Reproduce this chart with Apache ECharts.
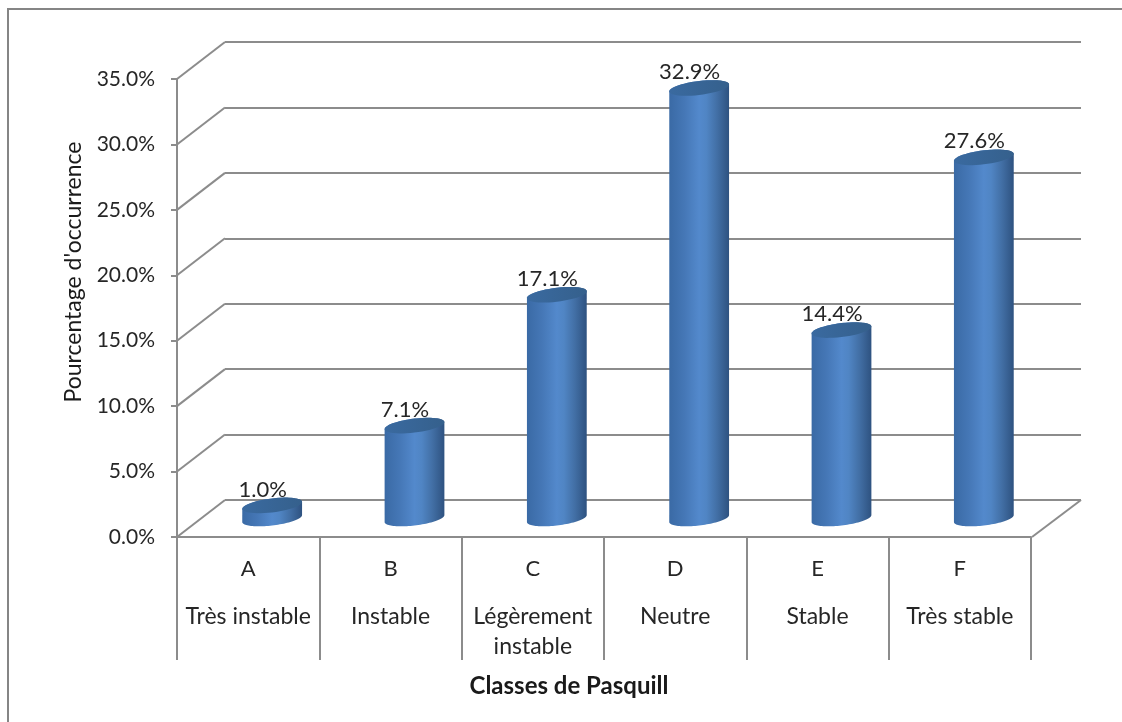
<!DOCTYPE html>
<html><head><meta charset="utf-8">
<style>html,body{margin:0;padding:0;background:#fff}#c{width:1122px;height:722px}</style>
<script src="https://cdn.jsdelivr.net/npm/echarts@6/dist/echarts.min.js"></script>
</head><body><div id="c"></div>
<script>
const letters = ['A','B','C','D','E','F'];
const classNames = ['Très instable','Instable','Légèrement\ninstable','Neutre','Stable','Très stable'];
const occurrence = [1.0,7.1,17.1,32.9,14.4,27.6];
const yTicks = [0,5,10,15,20,25,30,35];
const xName = 'Classes de Pasquill';
const yName = "Pourcentage d'occurrence";

const FONT='Lato', TXT='#262626', LINE='#8c8c8c';
const DX=48, DY=37;
const chart = echarts.init(document.getElementById('c'),null,{renderer:'canvas'});

function ell(cx,cy,from,to,rx,ry,skew){
  const pts=[],n=48;
  for(let i=0;i<=n;i++){const t=from+(to-from)*i/n;
    pts.push([cx+rx*Math.cos(t),cy+ry*Math.sin(t)-skew*Math.cos(t)]);}
  return pts;
}
const bodyGrad=new echarts.graphic.LinearGradient(0,0,1,0,[
 {offset:0,color:'#3a6aa5'},{offset:.25,color:'#4577b6'},{offset:.5,color:'#5389cc'},
 {offset:.62,color:'#5085c4'},{offset:.8,color:'#426fa5'},{offset:1,color:'#2e5280'}]);
const topGrad=new echarts.graphic.LinearGradient(0,0,1,0,[
 {offset:0,color:'#3a6aa0'},{offset:1,color:'#35608c'}]);

function renderCyl(params,api){
  const i=api.value(0),v=api.value(1);
  const t=api.coord([i,v]),b=api.coord([i,0]);
  const rx=api.size([1,0])[0]*0.21,ry=7,skew=3.5;
  const poly=ell(b[0],b[1],0,Math.PI,rx,ry,skew).concat(ell(t[0],t[1],Math.PI,2*Math.PI,rx,ry,skew));
  return {type:'group',children:[
    {type:'polygon',shape:{points:poly},style:{fill:bodyGrad}},
    {type:'polygon',shape:{points:ell(t[0],t[1],0,2*Math.PI,rx,ry,skew)},style:{fill:topGrad}},
    {type:'text',style:{text:v.toFixed(1)+'%',x:t[0]-9.5,y:t[1]-16,align:'center',verticalAlign:'middle',
       font:'22px '+FONT,fill:TXT}}
  ]};
}
function renderWall(params,api){
  const cs=params.coordSys;const y=api.coord([0,api.value(1)])[1];
  return {type:'line',shape:{x1:cs.x,y1:y,x2:cs.x-DX,y2:y+DY},style:{stroke:LINE,lineWidth:2}};
}
function renderFloorEdge(params,api){
  const cs=params.coordSys;const y=api.coord([0,api.value(1)])[1];
  return {type:'line',shape:{x1:cs.x+cs.width,y1:y,x2:cs.x+cs.width-DX-1,y2:y+DY},style:{stroke:LINE,lineWidth:2}};
}
const hiddenY=(g)=>({type:'value',gridIndex:g,min:0,max:35,interval:5,axisLine:{show:false},axisTick:{show:false},axisLabel:{show:false},splitLine:{show:false}});
const hiddenX=(g)=>({type:'category',gridIndex:g,data:letters,axisLine:{show:false},axisTick:{show:false},axisLabel:{show:false},splitLine:{show:false}});

chart.setOption({
  animation:false,backgroundColor:'#fff',
  graphic:[{type:'polyline',shape:{points:[[8,722],[8,9],[1122,9]]},style:{stroke:'#858585',fill:null,lineWidth:2},z:0}],
  grid:[
    {left:225,top:42,width:856,height:458},
    {left:177,top:79,width:854,height:458},
    {left:201,top:60.5,width:854,height:458}
  ],
  xAxis:[
    hiddenX(0),
    {type:'category',gridIndex:1,data:letters,position:'bottom',
      axisLine:{show:true,lineStyle:{color:LINE,width:2}},
      axisTick:{show:true,length:123,lineStyle:{color:LINE,width:2}},
      axisLabel:{interval:0,margin:21,fontFamily:FONT,fontSize:22,color:TXT},
      name:xName,nameLocation:'middle',nameGap:137,
      nameTextStyle:{fontFamily:FONT,fontSize:24,fontWeight:'bold',color:'#1a1a1a',padding:[0,70,0,0]}},
    {type:'category',gridIndex:1,data:classNames,position:'bottom',
      axisLine:{show:false},axisTick:{show:false},
      axisLabel:{interval:0,margin:65,lineHeight:30,fontFamily:FONT,fontSize:23,color:TXT}},
    hiddenX(2)
  ],
  yAxis:[
    {type:'value',gridIndex:0,min:0,max:35,interval:5,axisLine:{show:false},axisTick:{show:false},axisLabel:{show:false},
      splitLine:{show:true,lineStyle:{color:LINE,width:2}}},
    {type:'value',gridIndex:1,min:0,max:35,interval:5,
      axisLine:{show:true,lineStyle:{color:LINE,width:2}},
      axisTick:{show:true,length:6,lineStyle:{color:LINE,width:2}},
      axisLabel:{margin:22,fontFamily:FONT,fontSize:21,color:TXT,padding:[4,0,0,0],formatter:v=>v.toFixed(1)+'%'},
      splitLine:{show:false},
      name:yName,nameLocation:'middle',nameGap:92,nameRotate:90,
      nameTextStyle:{fontFamily:FONT,fontSize:23,color:'#1a1a1a',padding:[0,0,0,72]}},
    hiddenY(2)
  ],
  series:[
    {type:'custom',xAxisIndex:0,yAxisIndex:0,renderItem:renderWall,data:yTicks.map(v=>[0,v]),silent:true,clip:false,z:1},
    {type:'custom',xAxisIndex:0,yAxisIndex:0,renderItem:renderFloorEdge,data:[[0,yTicks[0]]],silent:true,clip:false,z:1},
    {type:'custom',xAxisIndex:3,yAxisIndex:2,renderItem:renderCyl,data:occurrence.map((v,i)=>[i,v]),silent:true,clip:false,z:5}
  ]
});
</script></body></html>
